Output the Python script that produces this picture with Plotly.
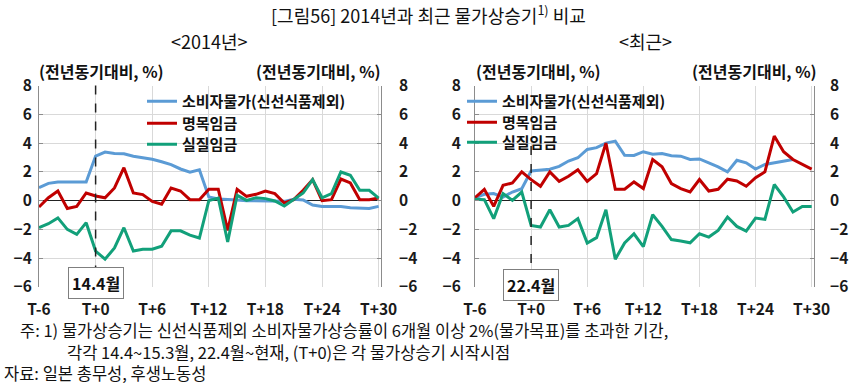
import plotly.graph_objects as go

# ---------------- data ----------------
months = list(range(-6, 31))  # T-6 ... T+30
tick_vals = [-6, 0, 6, 12, 18, 24, 30]
tick_text = ["T-6", "T+0", "T+6", "T+12", "T+18", "T+24", "T+30"]
y_ticks = [-6, -4, -2, 0, 2, 4, 6, 8]

series_names = ["소비자물가(신선식품제외)", "명목임금", "실질임금"]

# <2014년>
cpi_2014 = [0.9, 1.2, 1.3, 1.3, 1.3, 1.3, 3.1,
            3.38, 3.28, 3.26, 3.08, 3.0, 2.87, 2.7, 2.5, 2.2, 1.98, 2.15, 0.25,
            0.12, 0.1, 0.05, 0.0, 0.0, -0.05, -0.05, -0.05, 0.1, 0.05, -0.3, -0.4,
            -0.4, -0.4, -0.5, -0.55, -0.55, -0.4]
nominal_2014 = [-0.44, 0.2, 0.67, -0.55, -0.4, 0.53, 0.32,
                0.2, 0.88, 2.29, 0.53, 0.42, -0.05, -0.25, 0.88, 0.67, 0.07, 0.07, 0.79,
                0.79, -2.06, 0.79, 0.3, 0.44, 0.67, 0.49, -0.16, 0.07, 0.72, 1.46, 0.0,
                0.07, 1.5, 1.23, 0.07, 0.07, 0.18]
real_2014 = [-1.88, -1.6, -1.2, -2.0, -2.34, -1.53, -3.5,
             -4.07, -3.29, -1.88, -3.5, -3.38, -3.38, -3.17, -2.1, -2.1, -2.4, -2.6, 0.0,
             0.18, -2.87, 0.37, 0.02, 0.2, 0.14, -0.02, -0.37, 0.07, 0.53, 1.46, 0.2,
             0.49, 1.99, 1.76, 0.72, 0.72, 0.18]

# <최근>
cpi_recent = [0.2, 0.44, 0.49, 0.25, 0.6, 0.83, 2.06,
              2.1, 2.18, 2.38, 2.75, 2.98, 3.56, 3.68, 4.0, 4.14, 3.15, 3.14, 3.4,
              3.23, 3.28, 3.12, 3.09, 2.86, 2.9, 2.63, 2.35, 2.0, 2.81, 2.63, 2.2,
              2.51, 2.63, 2.77, 2.86, None, None]
nominal_recent = [0.2, 0.79, -0.4, 1.06, 1.23, 2.0, 1.46,
                  1.0, 2.0, 1.34, 1.69, 2.15, 1.34, 1.88, 4.0, 0.79, 0.79, 1.3, 0.84,
                  2.86, 2.35, 1.19, 0.84, 0.6, 1.47, 0.67, 0.79, 1.49, 1.37, 1.0, 1.6,
                  2.0, 4.49, 3.4, 2.86, 2.51, 2.19]
real_recent = [0.1, 0.07, -1.25, 0.49, 0.02, 0.6, -1.72,
               -1.83, -0.63, -1.83, -1.72, -1.25, -2.94, -2.57, -0.63, -4.07, -2.94, -2.3, -3.19,
               -0.98, -1.79, -2.7, -2.81, -2.93, -2.3, -2.53, -2.07, -1.14, -1.79, -2.12, -1.21,
               -1.3, 1.12, 0.26, -0.79, -0.4, -0.4]

start_labels = ["14.4월", "22.4월"]

# ---------------- style ----------------
W, H = 854, 388
FONT = "Noto Sans CJK KR"
colors = ["#5B9BD5", "#C00000", "#12A07A"]
GRID = "#D9D9D9"
AXC = "#8C8C8C"


def px(x):
    return x / W


def py(y):
    return 1 - y / H


fig = go.Figure()

# left panel: x / y (left) / y2 (right);  right panel: x2 / y3 (left) / y4 (right)
panels = [
    dict(x="x", ys=["y", "y", "y2"], legs=["legend", "legend2", "legend3"],
         data=[cpi_2014, nominal_2014, real_2014]),
    dict(x="x2", ys=["y3", "y3", "y4"], legs=["legend4", "legend5", "legend6"],
         data=[cpi_recent, nominal_recent, real_recent]),
]
for p in panels:
    for name, vals, c, ya, lg in zip(series_names, p["data"], colors, p["ys"], p["legs"]):
        fig.add_trace(go.Scatter(
            x=months, y=vals, name=name, mode="lines",
            line=dict(color=c, width=3), xaxis=p["x"], yaxis=ya,
            legend=lg, connectgaps=False,
        ))

tickfont = dict(family=FONT, size=15.5, color="#1a1a1a", weight="bold")
yrange = [-6, 8]
ydom = [py(287), py(85.5)]

xcommon = dict(range=[-6, 30.25], tickvals=tick_vals, ticktext=tick_text,
               showgrid=True, gridcolor=GRID, gridwidth=1, zeroline=False,
               showline=False, ticks="", tickfont=tickfont, ticklabelstandoff=11,
               fixedrange=True, automargin=False)
ycommon = dict(range=yrange, tickvals=y_ticks, showgrid=True, gridcolor=GRID,
               zeroline=True, zerolinecolor="#222222", zerolinewidth=1,
               showline=True, linecolor=AXC, linewidth=1, ticks="inside",
               ticklen=4, tickcolor=AXC, tickfont=tickfont, fixedrange=True,
               automargin=False)

legfont = dict(family=FONT, size=15, color="#111", weight="bold")
leg_pos = {  # legend key: (left x, top y) in page pixels
    "legend": (142, 85), "legend2": (142, 107), "legend3": (142, 128),
    "legend4": (462, 85), "legend5": (462, 106), "legend6": (462, 126),
}
legends = {k: dict(x=px(v[0]), y=py(v[1]), xanchor="left", yanchor="top",
                   bgcolor="rgba(0,0,0,0)", borderwidth=0, tracegroupgap=0,
                   font=legfont)
           for k, v in leg_pos.items()}

fig.update_layout(
    template="none",
    width=W, height=H, margin=dict(l=0, r=0, t=0, b=0, pad=0, autoexpand=False),
    paper_bgcolor="white", plot_bgcolor="white",
    font=dict(family=FONT, color="#111111"),
    xaxis=dict(domain=[px(39), px(381)], anchor="y", **xcommon),
    xaxis2=dict(domain=[px(475), px(814)], anchor="y3", **xcommon),
    yaxis=dict(anchor="x", side="left", ticklabelstandoff=3, domain=ydom, **ycommon),
    yaxis2=dict(anchor="x", overlaying="y", side="right", ticklabelstandoff=14, **ycommon),
    yaxis3=dict(anchor="x2", side="left", ticklabelstandoff=10, domain=ydom, **ycommon),
    yaxis4=dict(anchor="x2", overlaying="y3", side="right", ticklabelstandoff=12, **ycommon),
    showlegend=True,
    **legends,
)
# right axes: no duplicate grid / zero line
fig.update_layout(yaxis2_showgrid=False, yaxis2_zeroline=False,
                  yaxis4_showgrid=False, yaxis4_zeroline=False)

# dashed start lines
fig.add_shape(type="line", xref="x", yref="paper", x0=0, x1=0, y0=py(85.5), y1=py(270),
              line=dict(color="#222", width=1.5, dash="dash"))
fig.add_shape(type="line", xref="x2", yref="paper", x0=0, x1=0, y0=py(146), y1=py(272),
              line=dict(color="#222", width=1.5, dash="dash"))

# start label boxes
for xr, lab, yc in [("x", start_labels[0], 283), ("x2", start_labels[1], 285)]:
    fig.add_annotation(x=0, xref=xr, y=py(yc), yref="paper", text=lab, showarrow=False,
                       xanchor="center", yanchor="middle",
                       font=dict(family=FONT, size=16, color="#111", weight="bold"),
                       bgcolor="white", bordercolor="#7F7F7F", borderwidth=1, borderpad=3)


def center_text(x, y, text, size, bold=False):
    fig.add_annotation(x=px(x), y=py(y), xref="paper", yref="paper", showarrow=False,
                       xanchor="center", yanchor="middle", text=text,
                       font=dict(family=FONT, size=size, color="#111",
                                 weight="bold" if bold else "normal"))


center_text(428, 14, "[그림56] 2014년과 최근 물가상승기<sup>1)</sup> 비교", 18)
center_text(209, 41, "&lt;2014년&gt;", 18)
center_text(645, 41, "&lt;최근&gt;", 18)

unit = "(전년동기대비, %)"
for cx in [101, 318, 538, 754]:
    center_text(cx, 71, unit, 16, bold=True)

# notes
notes = [
    (18, 330, "주: 1) 물가상승기는 신선식품제외 소비자물가상승률이 6개월 이상 2%(물가목표)를 초과한 기간,"),
    (65, 352, "각각 14.4~15.3월, 22.4월~현재, (T+0)은 각 물가상승기 시작시점"),
    (2, 373, "자료: 일본 총무성, 후생노동성"),
]
for x0, yc, t in notes:
    fig.add_annotation(x=px(x0), y=py(yc), xref="paper", yref="paper", showarrow=False,
                       xanchor="left", yanchor="middle", text=t,
                       font=dict(family=FONT, size=16.5, color="#111"))

fig.write_html("out.html", config={"displayModeBar": False, "staticPlot": True},
               post_script="document.body.style.margin='0';document.body.style.overflow='hidden';")
